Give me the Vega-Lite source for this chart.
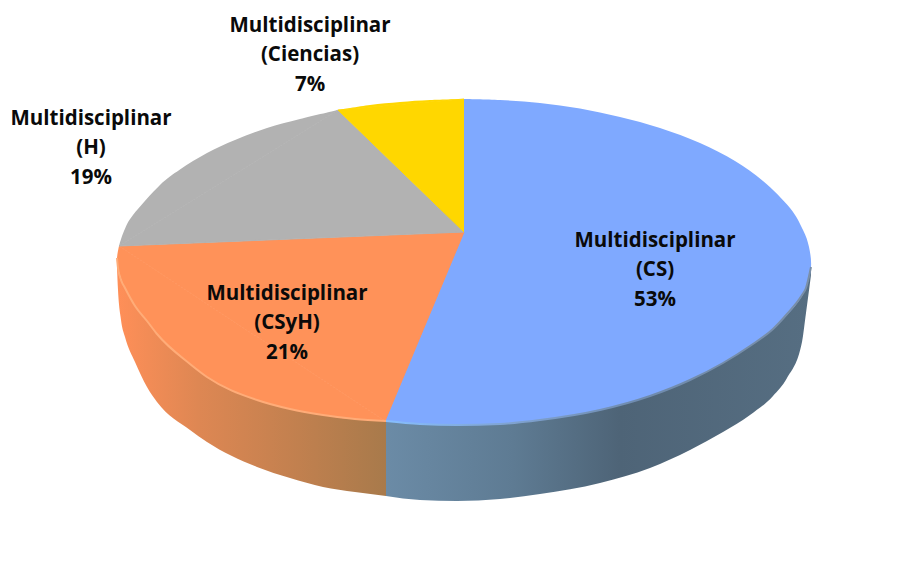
{
"$schema":"https://vega.github.io/schema/vega-lite/v6.json",
"width":917,"height":567,"autosize":{"type":"fit","contains":"padding"},"padding":0,
"background":"white","view":{"stroke":null},
"datasets":{
"rims":[
{"s":"CS","o":1,"x":464,"y":99},{"s":"CS","o":3,"x":500,"y":100},{"s":"CS","o":4,"x":540,"y":103},{"s":"CS","o":5,"x":580,"y":108.5},{"s":"CS","o":6,"x":620,"y":117},{"s":"CS","o":7,"x":660,"y":128},{"s":"CS","o":8,"x":700,"y":143},{"s":"CS","o":9,"x":735,"y":161},{"s":"CS","o":10,"x":763,"y":181},{"s":"CS","o":11,"x":790,"y":208},{"s":"CS","o":12,"x":803,"y":230},{"s":"CS","o":13,"x":809,"y":247},{"s":"CS","o":14,"x":811,"y":267},{"s":"CS","o":15,"x":806,"y":288},{"s":"CS","o":16,"x":795,"y":306},{"s":"CS","o":17,"x":773,"y":329},{"s":"CS","o":18,"x":750,"y":346},{"s":"CS","o":19,"x":723,"y":363},{"s":"CS","o":20,"x":690,"y":380},{"s":"CS","o":21,"x":650,"y":396},{"s":"CS","o":22,"x":600,"y":410},{"s":"CS","o":23,"x":540,"y":420},{"s":"CS","o":24,"x":500,"y":424},{"s":"CS","o":25,"x":457,"y":425},{"s":"CS","o":26,"x":420,"y":424},{"s":"CS","o":27,"x":385,"y":421},
{"s":"CSyH","o":1,"x":385,"y":421},{"s":"CSyH","o":3,"x":350,"y":419},{"s":"CSyH","o":4,"x":323,"y":415},{"s":"CSyH","o":5,"x":290,"y":409},{"s":"CSyH","o":6,"x":257,"y":400},{"s":"CSyH","o":7,"x":230,"y":390},{"s":"CSyH","o":8,"x":207,"y":377},{"s":"CSyH","o":9,"x":180,"y":356},{"s":"CSyH","o":10,"x":157,"y":334},{"s":"CSyH","o":11,"x":138,"y":310},{"s":"CSyH","o":12,"x":124,"y":286},{"s":"CSyH","o":13,"x":118,"y":268},{"s":"CSyH","o":14,"x":117,"y":258},{"s":"CSyH","o":15,"x":119,"y":246},
{"s":"H","o":1,"x":119,"y":246},{"s":"H","o":3,"x":124,"y":231},{"s":"H","o":4,"x":133,"y":215},{"s":"H","o":5,"x":160,"y":185},{"s":"H","o":6,"x":180,"y":169.5},{"s":"H","o":7,"x":207,"y":153},{"s":"H","o":8,"x":235,"y":140},{"s":"H","o":9,"x":267,"y":128},{"s":"H","o":10,"x":300,"y":119},{"s":"H","o":11,"x":338,"y":110},
{"s":"Ciencias","o":1,"x":338,"y":110},{"s":"Ciencias","o":3,"x":370,"y":105},{"s":"Ciencias","o":4,"x":400,"y":102},{"s":"Ciencias","o":5,"x":430,"y":100},{"s":"Ciencias","o":6,"x":464,"y":99}
],
"wedges":[
{"s":"CSyH","o":0,"x":464,"y":232},{"s":"CSyH","o":1,"x":385,"y":421},{"s":"CSyH","o":2,"x":119,"y":246},
{"s":"H","o":0,"x":464,"y":232},{"s":"H","o":1,"x":119,"y":246},{"s":"H","o":2,"x":338,"y":110},
{"s":"Ciencias","o":0,"x":464,"y":232},{"s":"Ciencias","o":1,"x":338,"y":110},{"s":"Ciencias","o":2,"x":464,"y":99}
],
"wallCS":[
{"x":386,"rim":421,"base":496},{"x":420,"rim":424,"base":500},{"x":457,"rim":425,"base":501},{"x":500,"rim":424,"base":499},{"x":540,"rim":420,"base":494},{"x":600,"rim":410,"base":483},{"x":650,"rim":396,"base":468},{"x":690,"rim":380,"base":450},{"x":723,"rim":363,"base":432},{"x":750,"rim":346,"base":415},{"x":773,"rim":329,"base":396},{"x":787,"rim":314,"base":378},{"x":802,"rim":295,"base":342},{"x":806,"rim":288,"base":313},{"x":811,"rim":267,"base":275}
],
"wallCSyH":[
{"x":117,"rim":258,"base":268},{"x":118,"rim":268,"base":290},{"x":121,"rim":280,"base":320},{"x":125,"rim":288,"base":337},{"x":135,"rim":306,"base":362},{"x":147,"rim":321,"base":387},{"x":157,"rim":334,"base":402},{"x":190,"rim":364,"base":430},{"x":207,"rim":377,"base":442},{"x":257,"rim":400,"base":467},{"x":290,"rim":409,"base":478},{"x":323,"rim":415,"base":487},{"x":355,"rim":419,"base":492},{"x":386,"rim":421,"base":496}
],
"labels":[
{"t":"Multidisciplinar\n(CS)\n53%","x":655,"y":241},
{"t":"Multidisciplinar\n(CSyH)\n21%","x":287,"y":294},
{"t":"Multidisciplinar\n(H)\n19%","x":91,"y":119},
{"t":"Multidisciplinar\n(Ciencias)\n7%","x":310,"y":26}
]
},
"encoding":{
"x":{"field":"x","type":"quantitative","scale":{"domain":[0,917],"nice":false,"zero":false},"axis":null}
},
"layer":[
{"data":{"name":"wallCS"},
 "mark":{"type":"area","interpolate":"monotone","color":{"gradient":"linear","x1":0,"x2":1,"y1":0,"y2":0,"stops":[{"offset":0,"color":"#6B8BA6"},{"offset":0.3,"color":"#5E7B93"},{"offset":0.55,"color":"#4E6477"},{"offset":1,"color":"#566E82"}]}},
 "encoding":{"y":{"field":"rim","type":"quantitative","scale":{"domain":[567,0],"nice":false,"zero":false},"axis":null},"y2":{"field":"base"}}},
{"data":{"name":"wallCSyH"},
 "mark":{"type":"area","interpolate":"monotone","color":{"gradient":"linear","x1":0,"x2":1,"y1":0,"y2":0,"stops":[{"offset":0,"color":"#FF8F58"},{"offset":0.3,"color":"#DE8753"},{"offset":1,"color":"#A87A4B"}]}},
 "encoding":{"y":{"field":"rim","type":"quantitative","scale":{"domain":[567,0],"nice":false,"zero":false},"axis":null},"y2":{"field":"base"}}},
{"data":{"name":"rims"},
 "mark":{"type":"line","strokeWidth":0,"interpolate":"cardinal"},
 "encoding":{
  "y":{"field":"y","type":"quantitative","scale":{"domain":[567,0],"nice":false,"zero":false},"axis":null},
  "order":{"field":"o","type":"quantitative"},
  "fill":{"field":"s","type":"nominal","legend":null,"scale":{"domain":["CS","CSyH","H","Ciencias"],"range":["#7FA9FF","#FF9259","#B2B2B2","#FFD700"]}}
 }},
{"data":{"name":"wedges"},
 "mark":{"type":"line","strokeWidth":1,"strokeCap":"butt","strokeJoin":"bevel"},
 "encoding":{
  "y":{"field":"y","type":"quantitative","scale":{"domain":[567,0],"nice":false,"zero":false},"axis":null},
  "order":{"field":"o","type":"quantitative"},
  "fill":{"field":"s","type":"nominal","legend":null,"scale":{"domain":["CS","CSyH","H","Ciencias"],"range":["#7FA9FF","#FF9259","#B2B2B2","#FFD700"]}},
  "stroke":{"field":"s","type":"nominal","legend":null,"scale":{"domain":["CS","CSyH","H","Ciencias"],"range":["#7FA9FF","#FF9259","#B2B2B2","#FFD700"]}}
 }},
{"data":{"name":"wallCS"},
 "mark":{"type":"line","interpolate":"monotone","strokeWidth":2,"stroke":{"gradient":"linear","x1":0,"x2":1,"y1":0,"y2":0,"stops":[{"offset":0,"color":"#86BEFF"},{"offset":0.3,"color":"#7FA2D0"},{"offset":0.6,"color":"#6F8BAE"},{"offset":1,"color":"#7A8FA8"}]}},
 "encoding":{"y":{"field":"rim","type":"quantitative","scale":{"domain":[567,0],"nice":false,"zero":false},"axis":null}}},
{"data":{"name":"wallCSyH"},
 "mark":{"type":"line","interpolate":"monotone","strokeWidth":2,"stroke":"#FFAC78"},
 "encoding":{"y":{"field":"rim","type":"quantitative","scale":{"domain":[567,0],"nice":false,"zero":false},"axis":null}}},
{"data":{"name":"labels"},
 "mark":{"type":"text","font":"Open Sans","fontWeight":"bold","fontSize":20.5,"lineBreak":"\n","lineHeight":29.3,"align":"center","baseline":"middle","color":"#0A0A0A"},
 "encoding":{"y":{"field":"y","type":"quantitative","scale":{"domain":[567,0],"nice":false,"zero":false},"axis":null},"text":{"field":"t"}}}
]
}
